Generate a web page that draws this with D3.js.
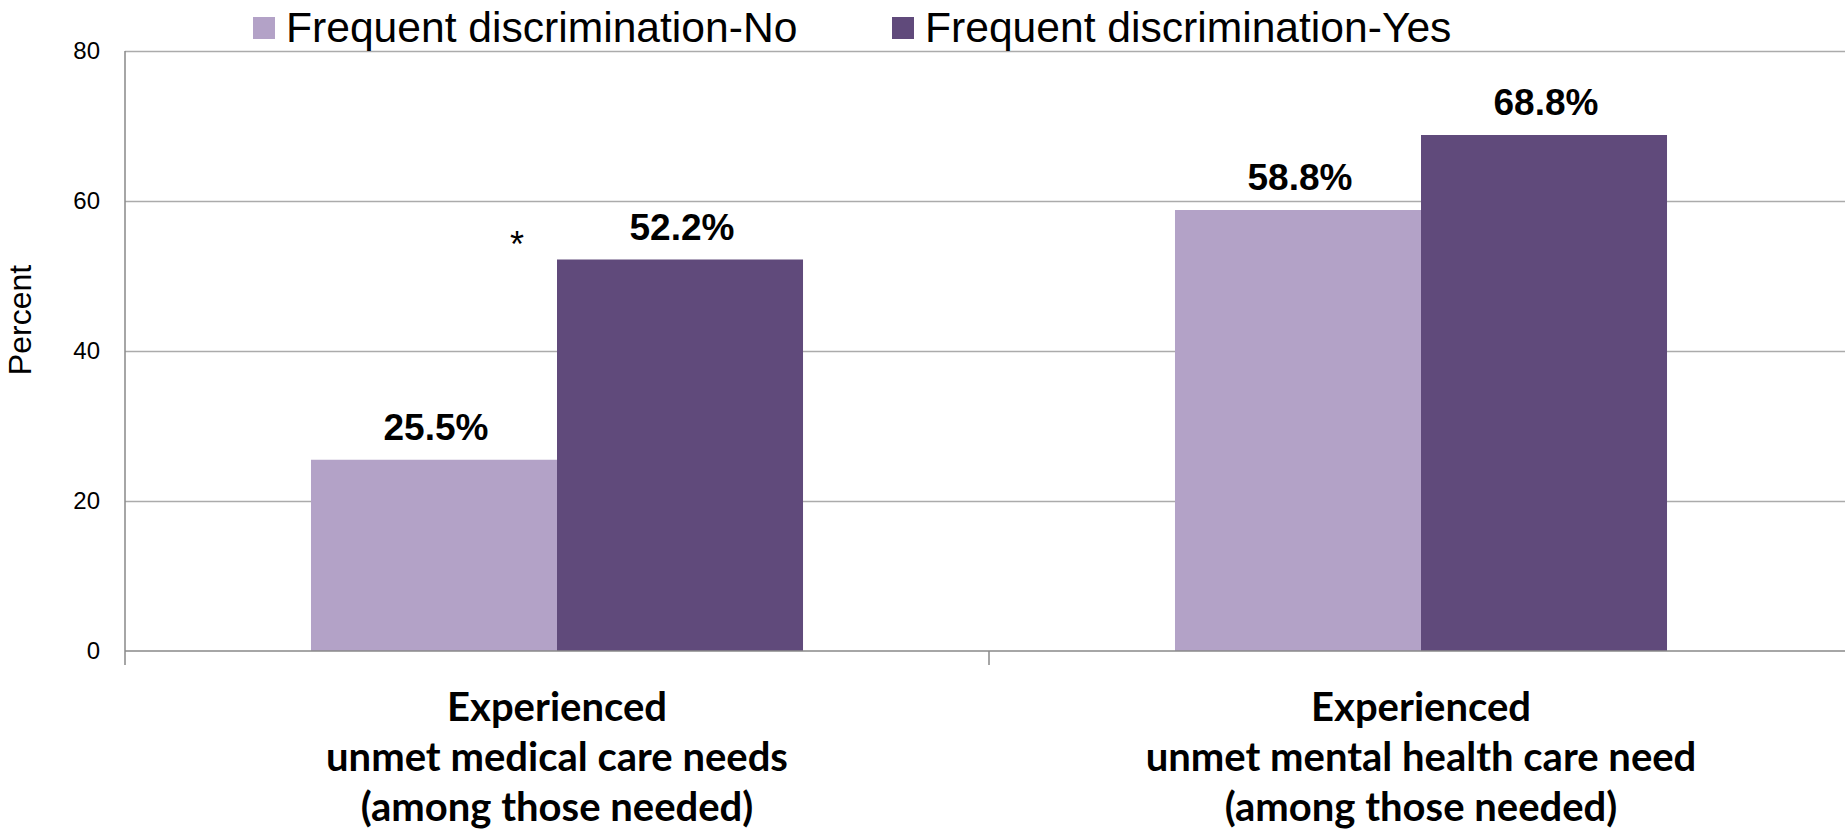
<!DOCTYPE html>
<head>
    <meta charset='utf-8'>
    <style>
        body {
            margin: 0;
            background: #fff;
            font-family: 'Liberation Sans', Arial, sans-serif;
        }
        #vis {
            width: 1845px;
            height: 831px;
            overflow: hidden;
        }
        .y-axis text {
            font-size: 24px;
            fill: #000;
        }
        .cat-label {
            font-family: Lato, 'Open Sans', sans-serif;
            font-weight: bold;
            font-size: 40px;
        }
    </style>
</head>

<body>
<div id='vis'></div>
<script src='https://cdn.jsdelivr.net/npm/d3@7/dist/d3.min.js'></script>
<script>
  // data
  const categories = ['medical', 'mental']
  const categoryLines = [
    ['Experienced', 'unmet medical care needs', '(among those needed)'],
    ['Experienced', 'unmet mental health care need', '(among those needed)']
  ]
  const seriesNames = ['Frequent discrimination-No', 'Frequent discrimination-Yes']
  const valuesNo = [25.5, 58.8]
  const valuesYes = [52.2, 68.8]
  const yTicks = [0, 20, 40, 60, 80]
  const colours = ['#b3a2c7', '#604a7b']
  // significance marker: category index
  const starAt = [0]

  const W = 1845, H = 831
  const margin = {top: 51, left: 125, bottom: 180}
  const plotRight = 1853

  const svg = d3.select('#vis')
    .append('svg')
    .attr('width', W)
    .attr('height', H)

  const x = d3.scaleBand()
    .domain(categories)
    .range([margin.left, plotRight])

  const xSub = d3.scaleBand()
    .domain(seriesNames)
    .range([0, x.bandwidth()])
    .paddingOuter(0.756)

  const y = d3.scaleLinear()
    .domain([0, 80])
    .range([H - margin.bottom, margin.top])

  const rows = categories.map((c, i) => ({cat: c, vals: [valuesNo[i], valuesYes[i]]}))

  // gridlines + tick labels
  const yAxis = svg.append('g')
    .attr('class', 'y-axis')
    .attr('transform', `translate(${margin.left},0)`)
    .call(d3.axisLeft(y).tickValues(yTicks).tickSize(-(plotRight - margin.left)).tickPadding(25))

  yAxis.select('.domain').remove()
  yAxis.selectAll('line')
    .attr('stroke', '#ababab')
    .attr('stroke-width', 1.5)
    .filter(d => d === 0).remove()

  // bars
  const group = svg.append('g').selectAll('g')
    .data(rows)
    .join('g')
    .attr('transform', d => `translate(${x(d.cat)},0)`)

  group.selectAll('rect')
    .data(d => d.vals.map((v, j) => ({s: seriesNames[j], v, j})))
    .join('rect')
    .attr('x', d => xSub(d.s))
    .attr('y', d => y(d.v))
    .attr('width', xSub.bandwidth())
    .attr('height', d => y(0) - y(d.v))
    .attr('fill', d => colours[d.j])

  group.selectAll('text.val')
    .data(d => d.vals.map((v, j) => ({s: seriesNames[j], v})))
    .join('text')
    .attr('class', 'val')
    .attr('x', d => xSub(d.s) + xSub.bandwidth() / 2 + 2)
    .attr('y', d => y(d.v) - 20)
    .attr('text-anchor', 'middle')
    .attr('font-size', 37)
    .attr('font-weight', 'bold')
    .text(d => d3.format('.1f')(d.v) + '%')

  // asterisk
  svg.append('g').selectAll('text')
    .data(starAt)
    .join('text')
    .attr('x', i => x(categories[i]) + xSub(seriesNames[1]) - 40)
    .attr('y', i => y(valuesYes[i]) - 3)
    .attr('text-anchor', 'middle')
    .attr('font-size', 36)
    .text('*')

  // axis lines
  const axisCol = '#888'
  svg.append('line')
    .attr('x1', margin.left).attr('x2', plotRight)
    .attr('y1', y(0)).attr('y2', y(0))
    .attr('stroke', axisCol).attr('stroke-width', 1.5)

  svg.append('line')
    .attr('x1', margin.left).attr('x2', margin.left)
    .attr('y1', y(80)).attr('y2', y(0) + 14)
    .attr('stroke', axisCol).attr('stroke-width', 1.5)

  svg.append('g').selectAll('line')
    .data(categories.slice(1).map(c => x(c)).concat([plotRight]))
    .join('line')
    .attr('x1', d => d).attr('x2', d => d)
    .attr('y1', y(0)).attr('y2', y(0) + 14)
    .attr('stroke', axisCol).attr('stroke-width', 1.5)

  // category labels
  const cat = svg.append('g').selectAll('text')
    .data(categories)
    .join('text')
    .attr('class', 'cat-label')
    .attr('text-anchor', 'middle')

  cat.selectAll('tspan')
    .data((d, i) => categoryLines[i].map(t => ({t, cx: x(d) + x.bandwidth() / 2})))
    .join('tspan')
    .attr('x', d => d.cx)
    .attr('y', (d, k) => 721 + k * 50)
    .text(d => d.t)

  // y title
  svg.append('text')
    .attr('transform', 'translate(31,320) rotate(-90)')
    .attr('text-anchor', 'middle')
    .attr('font-size', 32)
    .text('Percent')

  // legend
  const legend = svg.append('g').selectAll('g')
    .data(seriesNames)
    .join('g')
    .attr('transform', (d, i) => `translate(${[253, 892][i]},0)`)

  legend.append('rect')
    .attr('y', 17)
    .attr('width', 22)
    .attr('height', 22)
    .attr('fill', (d, i) => colours[i])

  legend.append('text')
    .attr('x', 33)
    .attr('y', 42)
    .attr('font-size', 42.6)
    .text(d => d)
</script>
</body>
